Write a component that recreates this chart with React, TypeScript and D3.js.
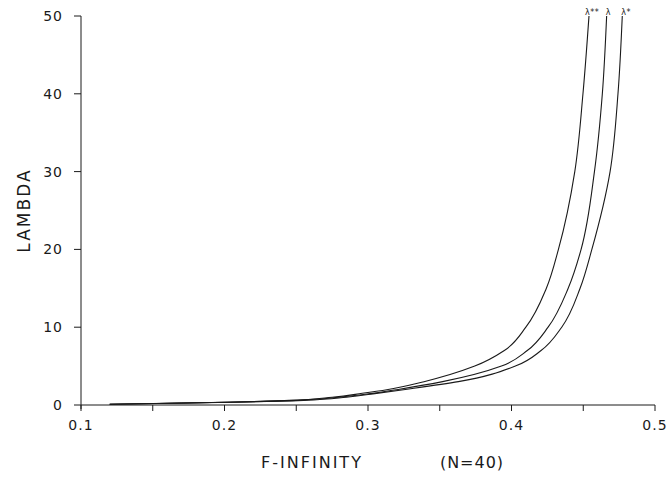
import React, { useEffect, useRef } from "react";
import * as d3 from "d3";

// lambda levels shared by the three curves
const lambdaLevels = [0.1, 0.2, 0.35, 0.6, 1.0, 1.5, 2, 3, 5, 7, 10, 15, 20, 30, 40, 50];
// F-infinity for each curve at those levels
const fLambda2 = [0.12, 0.15, 0.2, 0.245, 0.275, 0.296, 0.314, 0.339, 0.3744, 0.395, 0.41, 0.4243, 0.4327, 0.4441, 0.4498, 0.454];
const fLambda = [0.12, 0.152, 0.202, 0.25, 0.28, 0.303, 0.321, 0.352, 0.393, 0.411, 0.4255, 0.4395, 0.4485, 0.4578, 0.4633, 0.4663];
const fLambda1 = [0.12, 0.154, 0.204, 0.255, 0.285, 0.306, 0.326, 0.363, 0.4027, 0.4206, 0.435, 0.4478, 0.456, 0.4687, 0.4742, 0.4772];
const curveNames = ["\u03bb**", "\u03bb", "\u03bb*"];

const xTicks = [0.1, 0.15, 0.2, 0.25, 0.3, 0.35, 0.4, 0.45, 0.5];
const xTickLabels = [0.1, 0.2, 0.3, 0.4, 0.5];
const yTicks = [0, 10, 20, 30, 40, 50];

const App = () => {
    const ref = useRef(null);

    useEffect(() => {
        document.body.style.margin = "0";
        const width = 671;
        const height = 478;
        const ink = "#1a1a1a";
        const font = "DejaVu Sans, sans-serif";

        const svg = d3.select(ref.current);
        svg.selectAll("*").remove();
        svg.attr("width", width).attr("height", height);

        const x = d3.scaleLinear().domain([0.1, 0.5]).range([81, 655]);
        const y = d3.scaleLinear().domain([0, 50]).range([405, 16]);

        // x axis
        const gx = svg.append("g");
        gx.append("line")
            .attr("x1", x(0.1)).attr("x2", x(0.5))
            .attr("y1", y(0)).attr("y2", y(0))
            .attr("stroke", ink);
        gx.selectAll("line.tick")
            .data(xTicks)
            .join("line")
            .attr("class", "tick")
            .attr("x1", (d) => x(d)).attr("x2", (d) => x(d))
            .attr("y1", y(0)).attr("y2", y(0) + 6)
            .attr("stroke", ink);
        gx.selectAll("text")
            .data(xTickLabels)
            .join("text")
            .attr("x", (d) => x(d))
            .attr("y", y(0) + 25)
            .attr("text-anchor", "middle")
            .attr("font-family", font)
            .attr("font-size", 14)
            .attr("letter-spacing", 1)
            .attr("fill", ink)
            .text((d) => d3.format(".1f")(d));

        // y axis
        const gy = svg.append("g");
        gy.append("line")
            .attr("x1", x(0.1)).attr("x2", x(0.1))
            .attr("y1", y(0) + 4).attr("y2", y(50))
            .attr("stroke", ink);
        gy.selectAll("line.tick")
            .data(yTicks)
            .join("line")
            .attr("class", "tick")
            .attr("x1", x(0.1) - 7).attr("x2", x(0.1))
            .attr("y1", (d) => y(d)).attr("y2", (d) => y(d))
            .attr("stroke", ink);
        gy.selectAll("text")
            .data(yTicks)
            .join("text")
            .attr("x", x(0.1) - 18)
            .attr("y", (d) => y(d) + 5)
            .attr("text-anchor", "end")
            .attr("font-family", font)
            .attr("font-size", 14)
            .attr("letter-spacing", 1)
            .attr("fill", ink)
            .text((d) => d);

        // axis titles
        svg.append("text")
            .attr("transform", `translate(30, ${y(25)}) rotate(-90)`)
            .attr("text-anchor", "middle")
            .attr("font-family", font)
            .attr("font-size", 17)
            .attr("letter-spacing", 2)
            .attr("fill", ink)
            .text("LAMBDA");
        svg.append("text")
            .attr("x", 312)
            .attr("y", 468)
            .attr("text-anchor", "middle")
            .attr("font-family", font)
            .attr("font-size", 16)
            .attr("letter-spacing", 2)
            .attr("fill", ink)
            .text("F-INFINITY");
        svg.append("text")
            .attr("x", 472)
            .attr("y", 468)
            .attr("text-anchor", "middle")
            .attr("font-family", font)
            .attr("font-size", 16)
            .attr("letter-spacing", 1)
            .attr("fill", ink)
            .text("(N=40)");

        // curves
        const series = [fLambda2, fLambda, fLambda1];
        const line = d3
            .line()
            .x((d) => x(d[0]))
            .y((d) => y(d[1]))
            .curve(d3.curveMonotoneY);

        svg.append("g")
            .selectAll("path")
            .data(series)
            .join("path")
            .attr("d", (s) => line(s.map((f, i) => [f, lambdaLevels[i]])))
            .attr("fill", "none")
            .attr("stroke", ink)
            .attr("stroke-width", 1.1);

        svg.append("g")
            .selectAll("text")
            .data(series)
            .join("text")
            .attr("x", (s, i) => x(s[s.length - 1]) - (i === 0 ? 4 : 1))
            .attr("y", y(50) - 1)
            .attr("font-family", font)
            .attr("font-size", 8)
            .attr("letter-spacing", 0.5)
            .attr("fill", ink)
            .text((s, i) => curveNames[i]);
    }, []);

    return <svg ref={ref}></svg>;
};

export default App;
